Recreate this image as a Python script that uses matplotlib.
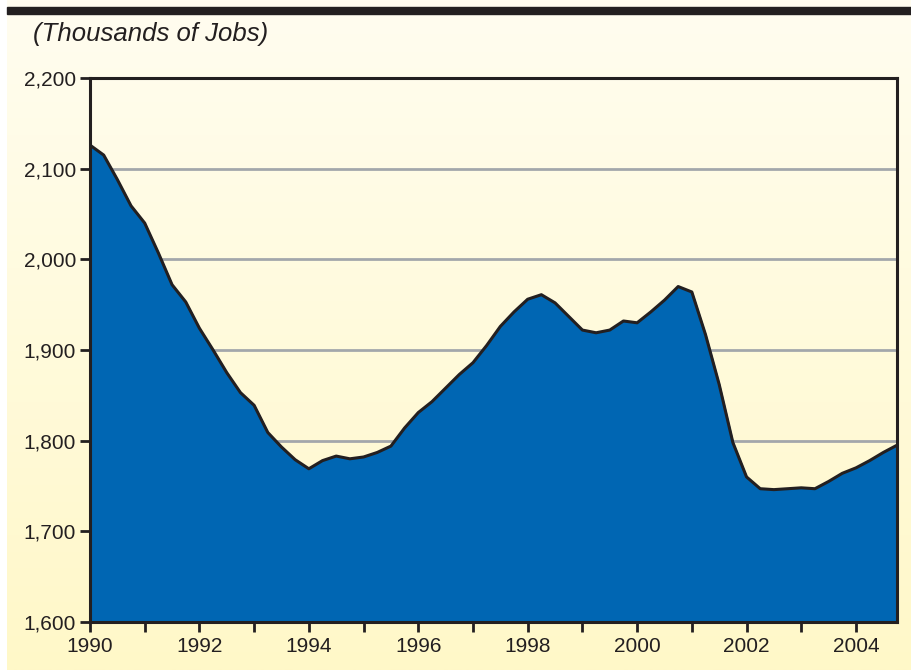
import numpy as np
import matplotlib.pyplot as plt


# 季度数据，1990Q1 - 2004Q4
years = [1990 + 0.25 * i for i in range(60)]
jobs = [2126, 2115, 2088, 2059, 2040, 2007, 1972, 1953, 1924, 1900,
        1875, 1853, 1839, 1809, 1793, 1779, 1769, 1778, 1783, 1780,
        1782, 1787, 1794, 1814, 1831, 1843, 1858, 1873, 1886, 1905,
        1926, 1942, 1956, 1961, 1952, 1937, 1922, 1919, 1922, 1932,
        1930, 1942, 1955, 1970, 1964, 1917, 1862, 1798, 1760, 1747,
        1746, 1747, 1748, 1747, 1755, 1764, 1770, 1778, 1787, 1795]
yticks = [1600, 1700, 1800, 1900, 2000, 2100, 2200]
xlabels = [1990, 1992, 1994, 1996, 1998, 2000, 2002, 2004]

plt.rcParams['font.family'] = ['Liberation Sans', 'DejaVu Sans']


def beijing(fig):    # 背景渐变
    bg = fig.add_axes([7 / 911, 0, 1 - 7 / 911, 1], zorder=-10)
    grad = np.linspace(0, 1, 256).reshape(-1, 1)
    c1 = np.array([255, 253, 240]) / 255.0    # 上
    c2 = np.array([255, 248, 200]) / 255.0    # 下
    img = c1 + (c2 - c1) * grad[:, :, None]
    bg.imshow(img, aspect='auto', extent=[0, 1, 0, 1], origin='upper')
    bg.axis('off')
    # 顶部黑条
    fig.patches.append(plt.Rectangle((7 / 911, 1 - 14 / 670), 1, 7 / 670,
                                     transform=fig.transFigure, color='#231F20'))


def main():
    fig = plt.figure(figsize=(9.11, 6.70), dpi=100)
    beijing(fig)
    fig.text(33 / 911, 1 - 34 / 670, '(Thousands of Jobs)', style='italic',
             fontsize=18.5, color='#231F20', va='center')

    ax = fig.add_axes([90 / 911, 48 / 670, 807 / 911, 544 / 670])
    ax.patch.set_alpha(0)
    ax.fill_between(years, jobs, 1600, color='#0066B3', zorder=2)
    ax.plot(years, jobs, color='#231F20', lw=2.2, zorder=3)

    ax.set_xlim(1990, 2004.75)
    ax.set_ylim(1600, 2200)
    ax.set_yticks(yticks)
    ax.set_yticklabels(['{:,}'.format(v) for v in yticks])
    ax.set_xticks(range(1990, 2005))
    ax.set_xticklabels([str(y) if y in xlabels else '' for y in range(1990, 2005)])
    for v in yticks[1:-1]:
        ax.axhline(v, color='#A3A7AB', lw=2, zorder=1)

    for s in ax.spines.values():
        s.set_linewidth(2.2)
        s.set_color('#231F20')
    ax.tick_params(direction='out', length=7, width=2, color='#231F20',
                   labelsize=15, labelcolor='#231F20', pad=3)
    ax.tick_params(axis='x', pad=4)

    fig.savefig('out.png', dpi=100)


if __name__ == '__main__':
    main()
